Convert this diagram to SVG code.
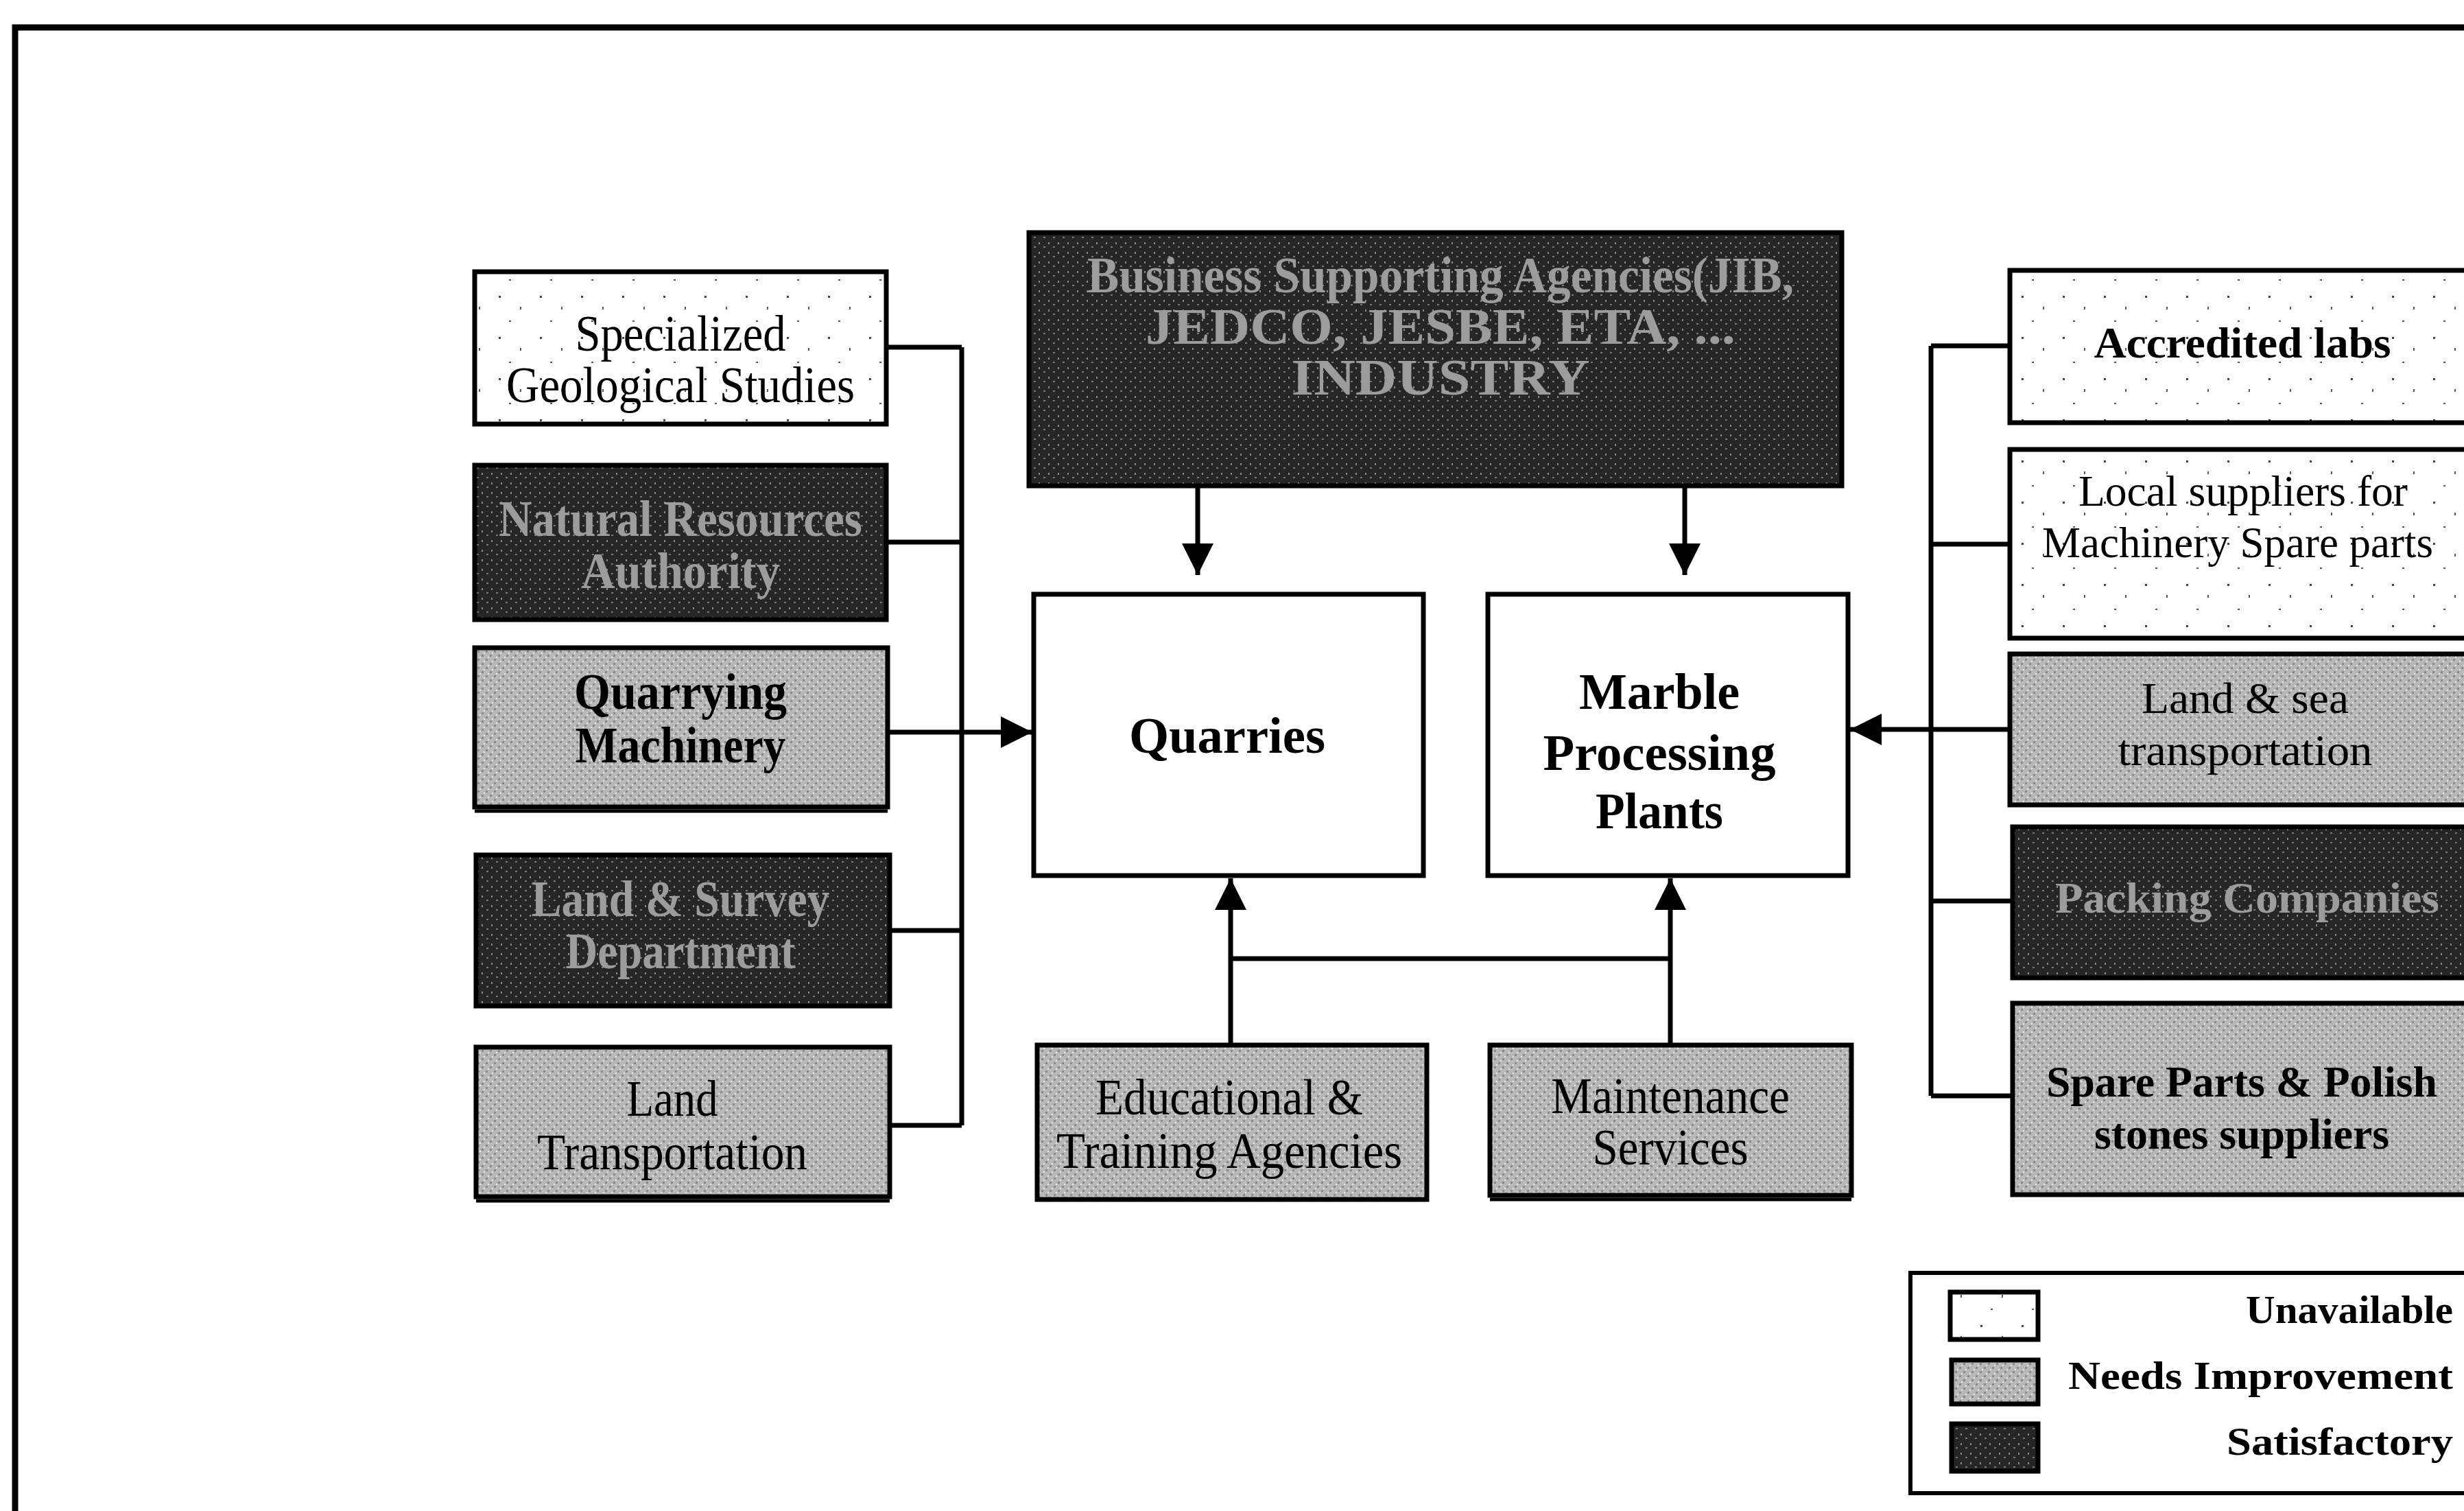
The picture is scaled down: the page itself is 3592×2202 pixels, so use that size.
<svg xmlns="http://www.w3.org/2000/svg" width="3592" height="2202" viewBox="0 0 3592 2202">
<defs>
<pattern id="pWhite" width="60" height="60" patternUnits="userSpaceOnUse">
<rect width="60" height="60" fill="#ffffff"/>
<rect x="7" y="11" width="3" height="3" fill="#444"/>
<rect x="38" y="27" width="2" height="4" fill="#555"/>
<rect x="22" y="47" width="3" height="2" fill="#555"/>
</pattern>
<pattern id="pMed" width="12" height="12" patternUnits="userSpaceOnUse">
<rect width="12" height="12" fill="#b8b8b8"/>
<rect x="0" y="0" width="3" height="3" fill="#8a8a8a"/>
<rect x="6" y="6" width="3" height="3" fill="#8a8a8a"/>
<rect x="3" y="9" width="2" height="2" fill="#e6e6e6"/>
<rect x="9" y="3" width="2" height="2" fill="#e6e6e6"/>
</pattern>
<pattern id="pDark" width="14" height="14" patternUnits="userSpaceOnUse">
<rect width="14" height="14" fill="#262626"/>
<rect x="2" y="3" width="2" height="3" fill="#8c8c8c"/>
<rect x="9" y="9" width="3" height="2" fill="#7a7a7a"/>
</pattern>
<marker id="arr" viewBox="0 0 10 10" refX="10" refY="5" markerWidth="46" markerHeight="46" markerUnits="userSpaceOnUse" orient="auto">
<path d="M0,0 L10,5 L0,10 Z" fill="#000"/>
</marker>
</defs>
<style>
.box{stroke:#000;stroke-width:7}
.w{fill:url(#pWhite)}
.m{fill:url(#pMed)}
.d{fill:url(#pDark)}
.t{font-family:"Liberation Serif","Times New Roman",serif;font-size:74px;text-anchor:middle;dominant-baseline:central;fill:#000}
.r{font-size:64px}
.b{font-weight:bold}
.lt{fill:#9c9c9c;font-weight:bold}
.c{fill:none;stroke:#000;stroke-width:7}
.sh{stroke:#000;stroke-width:5}
.lg{font-family:"Liberation Serif","Times New Roman",serif;font-size:58px;font-weight:bold;text-anchor:end;dominant-baseline:central;fill:#000}
</style>
<rect x="22" y="40" width="3620" height="2220" fill="none" stroke="#000" stroke-width="9"/>

<g id="connectors">
<path class="c" d="M1292,506 H1402 M1292,790 H1402 M1402,1356 H1297 M1402,1640 H1297 M1402,506 V1640"/>
<path class="c" d="M1294,1067 H1505" marker-end="url(#arr)"/>
<path class="c" d="M1746,708 V838" marker-end="url(#arr)"/>
<path class="c" d="M2456,708 V838" marker-end="url(#arr)"/>
<path class="c" d="M1794,1523 V1280" marker-end="url(#arr)"/>
<path class="c" d="M2435,1523 V1280" marker-end="url(#arr)"/>
<path class="c" d="M1794,1397 H2435"/>
<path class="c" d="M2930,504 H2815 M2930,793 H2815 M2934,1313 H2815 M2934,1597 H2815 M2815,504 V1597 M2930,1063 H2815"/>
<path class="c" d="M2815,1063 H2697" marker-end="url(#arr)"/>
</g>

<g id="n-geo">
<rect class="box w" x="692" y="396" width="600" height="222"/>
<text class="t" x="992" y="486" textLength="307" lengthAdjust="spacingAndGlyphs">Specialized</text>
<text class="t" x="992" y="561" textLength="508" lengthAdjust="spacingAndGlyphs">Geological Studies</text>
</g>
<g id="n-nra">
<rect class="box d" x="692" y="678" width="600" height="225"/>
<text class="t lt" x="992" y="756" textLength="530" lengthAdjust="spacingAndGlyphs">Natural Resources</text>
<text class="t lt" x="992" y="832" textLength="290" lengthAdjust="spacingAndGlyphs">Authority</text>
</g>
<g id="n-qmach">
<rect class="box m" x="692" y="944" width="602" height="232"/>
<line class="sh" x1="692" y1="1182" x2="1294" y2="1182"/>
<text class="t b" x="992" y="1008" textLength="310" lengthAdjust="spacingAndGlyphs">Quarrying</text>
<text class="t b" x="992" y="1086" textLength="307" lengthAdjust="spacingAndGlyphs">Machinery</text>
</g>
<g id="n-lsd">
<rect class="box d" x="694" y="1246" width="603" height="220"/>
<text class="t lt" x="992" y="1310" textLength="435" lengthAdjust="spacingAndGlyphs">Land &amp; Survey</text>
<text class="t lt" x="992" y="1386" textLength="335" lengthAdjust="spacingAndGlyphs">Department</text>
</g>
<g id="n-landtr">
<rect class="box m" x="694" y="1526" width="603" height="218"/>
<line class="sh" x1="694" y1="1750" x2="1297" y2="1750"/>
<text class="t" x="980" y="1601" textLength="133" lengthAdjust="spacingAndGlyphs">Land</text>
<text class="t" x="980" y="1679" textLength="394" lengthAdjust="spacingAndGlyphs">Transportation</text>
</g>

<g id="n-bsa">
<rect class="box d" x="1500" y="339" width="1185" height="369"/>
<text class="t lt" x="2100" y="401" textLength="1030" lengthAdjust="spacingAndGlyphs">Business Supporting Agencies(JIB,</text>
<text class="t lt" x="2100" y="476" textLength="860" lengthAdjust="spacingAndGlyphs">JEDCO, JESBE, ETA, ...</text>
<text class="t lt" x="2100" y="550" textLength="435" lengthAdjust="spacingAndGlyphs">INDUSTRY</text>
</g>

<g id="n-quarries">
<rect class="box" fill="#fff" x="1507" y="866" width="568" height="410"/>
<text class="t b" x="1789" y="1072" textLength="286" lengthAdjust="spacingAndGlyphs">Quarries</text>
</g>
<g id="n-marble">
<rect class="box" fill="#fff" x="2169" y="866" width="525" height="410"/>
<text class="t b" x="2419" y="1008" textLength="234" lengthAdjust="spacingAndGlyphs">Marble</text>
<text class="t b" x="2419" y="1097" textLength="339" lengthAdjust="spacingAndGlyphs">Processing</text>
<text class="t b" x="2419" y="1182" textLength="186" lengthAdjust="spacingAndGlyphs">Plants</text>
</g>
<g id="n-edu">
<rect class="box m" x="1512" y="1523" width="568" height="225"/>
<text class="t" x="1792" y="1599" textLength="390" lengthAdjust="spacingAndGlyphs">Educational &amp;</text>
<text class="t" x="1792" y="1677" textLength="504" lengthAdjust="spacingAndGlyphs">Training Agencies</text>
</g>
<g id="n-maint">
<rect class="box m" x="2172" y="1523" width="527" height="219"/>
<line class="sh" x1="2172" y1="1748" x2="2699" y2="1748"/>
<text class="t" x="2435" y="1597" textLength="348" lengthAdjust="spacingAndGlyphs">Maintenance</text>
<text class="t" x="2435" y="1672" textLength="227" lengthAdjust="spacingAndGlyphs">Services</text>
</g>

<g id="n-labs">
<rect class="box w" x="2930" y="394" width="700" height="222"/>
<text class="t r b" x="3269" y="499" textLength="433" lengthAdjust="spacingAndGlyphs">Accredited labs</text>
</g>
<g id="n-local">
<rect class="box w" x="2930" y="655" width="700" height="275"/>
<text class="t r" x="3270" y="715" textLength="480" lengthAdjust="spacingAndGlyphs">Local suppliers for</text>
<text class="t r" x="3262" y="790" textLength="570" lengthAdjust="spacingAndGlyphs">Machinery Spare parts</text>
</g>
<g id="n-landsea">
<rect class="box m" x="2930" y="953" width="700" height="220"/>
<text class="t r" x="3273" y="1017" textLength="302" lengthAdjust="spacingAndGlyphs">Land &amp; sea</text>
<text class="t r" x="3273" y="1093" textLength="371" lengthAdjust="spacingAndGlyphs">transportation</text>
</g>
<g id="n-packing">
<rect class="box d" x="2934" y="1205" width="700" height="220"/>
<text class="t r lt" x="3276" y="1308" textLength="560" lengthAdjust="spacingAndGlyphs">Packing Companies</text>
</g>
<g id="n-spare">
<rect class="box m" x="2934" y="1462" width="700" height="279"/>
<text class="t r b" x="3268" y="1576" textLength="570" lengthAdjust="spacingAndGlyphs">Spare Parts &amp; Polish</text>
<text class="t r b" x="3268" y="1652" textLength="430" lengthAdjust="spacingAndGlyphs">stones suppliers</text>
</g>

<g id="legend">
<rect x="2785" y="1855" width="900" height="321" fill="#fff" stroke="#000" stroke-width="6"/>
<rect class="box w" x="2843" y="1883" width="128" height="69"/>
<rect class="box m" x="2845" y="1982" width="126" height="64"/>
<rect class="box d" x="2845" y="2075" width="126" height="69"/>
<text class="lg" x="3576" y="1908" textLength="302" lengthAdjust="spacingAndGlyphs">Unavailable</text>
<text class="lg" x="3576" y="2004" textLength="561" lengthAdjust="spacingAndGlyphs">Needs Improvement</text>
<text class="lg" x="3576" y="2100" textLength="330" lengthAdjust="spacingAndGlyphs">Satisfactory</text>
</g>
</svg>
